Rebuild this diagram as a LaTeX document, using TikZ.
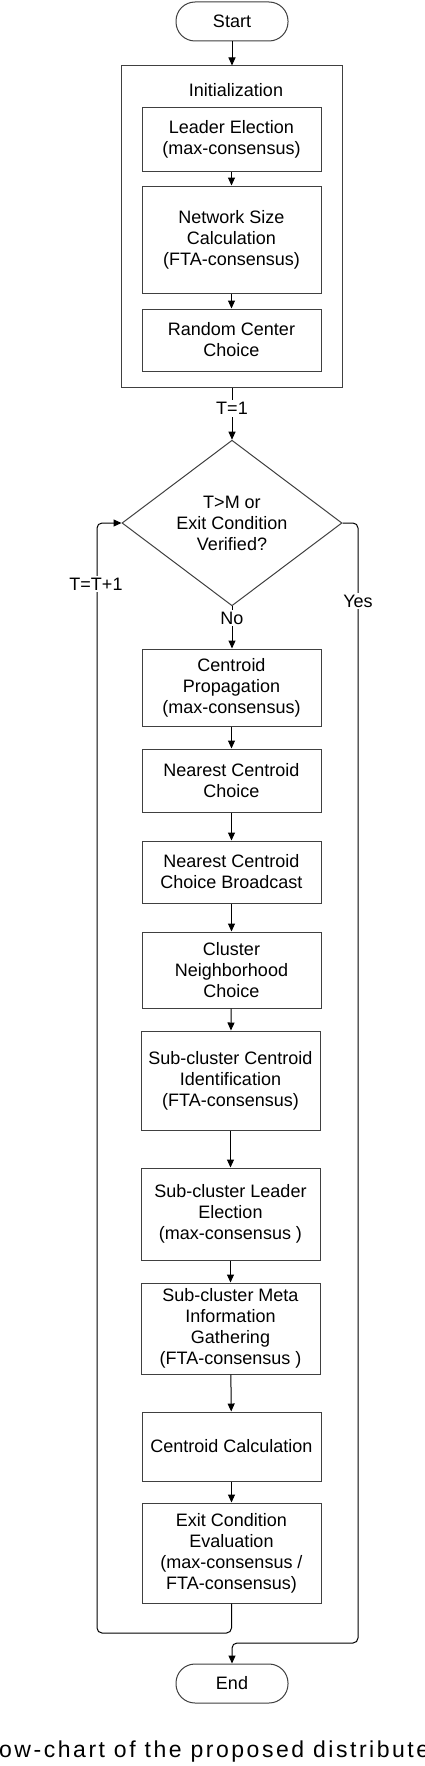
\documentclass[tikz,border=0pt]{standalone}
\usepackage{fontspec}
\setmainfont{Liberation Sans}
\newfontfamily\capfont[LetterSpace=11]{Liberation Sans}
\usetikzlibrary{arrows.meta,shapes.geometric}
\begin{document}
\begin{tikzpicture}[x=1pt,y=-1pt,
  txt/.style={font=\fontsize{18}{21}\selectfont},
  box/.style={txt, draw=black!75, line width=1pt, rectangle, minimum width=179pt, inner sep=0pt, align=center},
  term/.style={txt, draw=black!75, line width=1pt, rounded corners=19pt, minimum width=112pt, minimum height=39pt, inner sep=0pt},
  arr/.style={draw=black, line width=1pt, -{Triangle[length=8pt,width=7pt]}},
  line/.style={draw=black, line width=1pt},
  lbl/.style={txt, fill=white, inner sep=2pt}]
\useasboundingbox (0,0) rectangle (424,1766);
\fill[white] (0,0) rectangle (424,1766);

\node[term] (start) at (232,21.5) {Start};
\node[draw=black!75, line width=1pt, minimum width=221pt, minimum height=321pt, inner sep=0pt] (init) at (231.5,226.5) {};
\node[txt] (initlbl) at (236,90) {Initialization};
\node[box, minimum height=63pt] (le) at (231.5,139.5) {Leader Election\\(max-consensus)};
\node[box, minimum height=107pt] (ns) at (231.5,239.5) {Network Size\\Calculation\\(FTA-consensus)};
\node[box, minimum height=62pt] (rc) at (231.5,340) {Random Center\\Choice};

\node[txt, draw=black!75, line width=1pt, diamond, minimum width=220pt, minimum height=142pt, inner sep=0pt, align=center] (dia) at (232,523) {T>M or\\Exit Condition\\Verified?};

\node[box, minimum height=77pt] (cp) at (231.5,687.5) {Centroid\\Propagation\\(max-consensus)};
\node[box, minimum height=63pt] (ncc) at (231.5,780.5) {Nearest Centroid\\Choice};
\node[box, minimum height=62pt] (ncb) at (231.5,872) {Nearest Centroid\\Choice Broadcast};
\node[box, minimum height=76pt] (cn) at (231.5,970) {Cluster\\Neighborhood\\Choice};
\node[box, minimum height=99pt] (sci) at (230.5,1080.5) {Sub-cluster Centroid\\Identification\\ (FTA-consensus)};
\node[box, minimum height=92pt] (sle) at (230.5,1214) {Sub-cluster Leader\\Election\\(max-consensus )};
\node[box, minimum height=91pt] (smi) at (230.5,1328.5) {Sub-cluster Meta\\Information\\Gathering\\(FTA-consensus )};
\node[box, minimum height=69pt] (cc) at (231.5,1446.5) {Centroid Calculation};
\node[box, minimum height=100pt] (ece) at (231.5,1553) {Exit Condition\\Evaluation\\(max-consensus /\\FTA-consensus)};
\node[term] (end) at (232,1683.5) {End};

\draw[arr] (start) -- (init.north -| start);
\draw[arr] (le) -- (ns);
\draw[arr] (ns) -- (rc);
\draw[arr] (init.south -| dia) -- node[lbl, pos=0.4] (t1) {T=1} (dia.north);
\draw[arr] (dia.south) -- node[lbl, pos=0.28] (no) {No} (cp.north -| dia);
\draw[arr] (cp) -- (ncc);
\draw[arr] (ncc) -- (ncb);
\draw[arr] (ncb) -- (cn);
\draw[arr] (cn) -- (sci);
\draw[arr] (sci) -- (sle);
\draw[arr] (sle) -- (smi);
\draw[arr] (smi) -- (cc);
\draw[arr] (cc) -- (ece);

\coordinate (lb) at (97,1633);
\coordinate (lt) at (97,523);
\coordinate (rt) at (358,523);
\coordinate (rb) at (358,1643);
\draw[arr, rounded corners=5pt] (ece.south) -- (ece.south |- lb) -- (lb) -- (lt) -- (dia.west);
\draw[arr, rounded corners=5pt] (dia.east) -- (rt) -- (rb) -- (rb -| end) -- (end.north);
\node[lbl] (tinc) at (96,584) {T=T+1};
\node[lbl] (yes) at (358,601) {Yes};

\begin{scope}
\clip (0,0) rectangle (424,1766);
\node[anchor=base west, inner sep=0pt, font=\capfont\fontsize{23}{26}\selectfont] (cap) at (-1,1757) {ow-chart of the proposed distribute};
\end{scope}
\end{tikzpicture}
\end{document}
